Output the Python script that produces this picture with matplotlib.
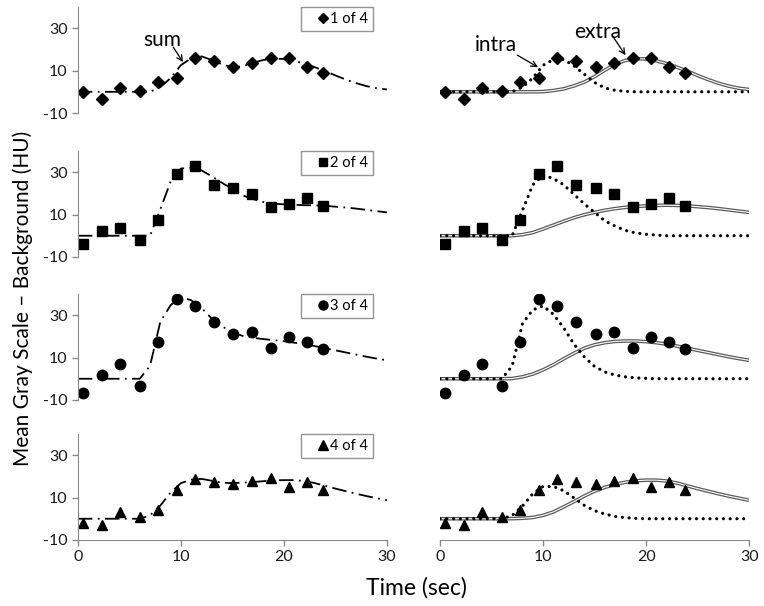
import numpy as np
import matplotlib
matplotlib.use("Agg")
import matplotlib.pyplot as plt
from matplotlib.lines import Line2D

plt.rcParams['font.family'] = ['Lato', 'DejaVu Sans']
plt.rcParams['axes.unicode_minus'] = False

# --- data ---
# sample times (sec)
t_pts = [0.5, 2.3, 4.1, 6.0, 7.8, 9.6, 11.4, 13.2, 15.1, 16.9, 18.7, 20.5, 22.2, 23.8]

# measured points, one list per scan
pts1 = [-0.3, -3.3, 1.8, 0.6, 4.8, 6.7, 16.0, 14.7, 11.7, 13.8, 15.8, 15.8, 11.7, 8.9]
pts2 = [-3.7, 2.1, 3.7, -2.2, 7.3, 29.0, 32.9, 23.9, 22.3, 19.5, 13.6, 14.9, 17.6, 13.9]
pts3 = [-6.7, 1.8, 6.8, -3.3, 17.1, 37.5, 34.5, 26.7, 21.1, 22.2, 14.3, 19.8, 17.4, 13.8]
pts4 = [-2.0, -3.0, 3.1, 0.9, 4.1, 13.7, 18.8, 17.5, 16.2, 18.0, 19.1, 15.1, 17.2, 13.7]

# fitted curves, read at 1 s steps from 0 to 30 s
t_fit = list(range(31))
intra1 = [0, 0, 0, 0, 0, 0, 0, 0, 2.2, 6.5, 12.5, 15.2, 15.3, 12.2, 8.3, 4.4,
          1.8, 0.7, 0.2, 0, 0, 0, 0, 0, 0, 0, 0, 0, 0, 0, 0]
extra1 = [0, 0, 0, 0, 0, 0, 0, 0, 0, 0, 0.1, 0.6, 1.4, 2.8, 4.6, 7.2,
          10.2, 13.0, 14.8, 15.6, 15.5, 14.6, 13.3, 11.6, 9.8, 7.7, 5.8, 4.1, 2.7, 1.7, 1.1]
intra2 = [0, 0, 0, 0, 0, 0, 0, 0, 12.0, 24.0, 28.5, 27.0, 24.0, 19.5, 15.0, 11.0,
          7.0, 4.5, 2.5, 1.3, 0.7, 0.3, 0, 0, 0, 0, 0, 0, 0, 0, 0]
extra2 = [0, 0, 0, 0, 0, 0, 0, 0, 0.5, 1.5, 3.2, 5.0, 6.8, 8.5, 9.9, 11.0,
          12.0, 12.8, 13.4, 13.8, 14.1, 14.3, 14.4, 14.3, 14.1, 13.7, 13.3, 12.8, 12.2, 11.6, 11.0]
intra3 = [0, 0, 0, 0, 0, 0, 0, 6.0, 26.0, 32.5, 34.3, 30.4, 24.0, 16.3, 10.3, 5.8,
          3.2, 1.7, 0.9, 0.4, 0.2, 0, 0, 0, 0, 0, 0, 0, 0, 0, 0]
extra3 = [0, 0, 0, 0, 0, 0, 0, 0.1, 0.9, 2.2, 4.2, 6.6, 9.4, 12.0, 14.4, 16.0,
          17.0, 17.6, 17.8, 17.8, 17.5, 17.0, 16.3, 15.4, 14.4, 13.4, 12.4, 11.4, 10.4, 9.5, 8.7]
intra4 = [0, 0, 0, 0, 0, 0, 0, 1.5, 6.0, 11.8, 15.2, 15.2, 13.2, 9.8, 6.3, 3.8,
          2.2, 1.1, 0.5, 0.2, 0, 0, 0, 0, 0, 0, 0, 0, 0, 0, 0]
extra4 = [0, 0, 0, 0, 0, 0, 0, 0.05, 0.2, 0.6, 1.6, 3.2, 5.6, 8.1, 10.7, 13.0,
          14.8, 16.2, 17.2, 17.9, 18.2, 18.2, 17.8, 16.8, 15.5, 14.2, 13.0, 11.8, 10.7, 9.7, 8.7]

labels = ['1 of 4', '2 of 4', '3 of 4', '4 of 4']
markers = ['D', 's', 'o', '^']
msizes = [6, 7, 7.5, 7.5]
points = [pts1, pts2, pts3, pts4]
intras = [intra1, intra2, intra3, intra4]
extras = [extra1, extra2, extra3, extra4]

fig = plt.figure(figsize=(7.64, 6.06), dpi=100)

bottoms = [0.8135, 0.576, 0.340, 0.109]
h = 0.175
w = 0.4045
axis_col = '#8a8a8a'
arrow = dict(arrowstyle='->', color='black', lw=0.9, shrinkA=0, shrinkB=0)

for i in range(4):
    intra = np.array(intras[i])
    extra = np.array(extras[i])
    total = intra + extra

    axl = fig.add_axes([0.102, bottoms[i], w, h])
    axr = fig.add_axes([0.576, bottoms[i], w, h])

    # left: measured points + sum fit
    axl.plot(t_fit, total, color='black', lw=1.3,
             linestyle=(0, (8, 3, 1, 3)))
    axl.plot(t_pts, points[i], linestyle='none', marker=markers[i],
             markersize=msizes[i], color='black')

    # right: measured points + intra / extra fits
    axr.plot(t_fit, extra, color='#5a5a5a', lw=2.6, solid_capstyle='butt')
    axr.plot(t_fit, extra, color='white', lw=0.8, solid_capstyle='butt')
    axr.plot(t_fit, intra, color='black', lw=2.3,
             linestyle=(0, (0.01, 2.1)), dash_capstyle='round')
    axr.plot(t_pts, points[i], linestyle='none', marker=markers[i],
             markersize=msizes[i], color='black')

    for ax in (axl, axr):
        ax.set_xlim(0, 30)
        ax.set_ylim(-10, 40)
        ax.spines['top'].set_visible(False)
        ax.spines['right'].set_visible(False)
        ax.spines['left'].set_color(axis_col)
        ax.spines['bottom'].set_color(axis_col)
        ax.tick_params(colors=axis_col, labelcolor='#1a1a1a', labelsize=11.5,
                       length=4, width=1)
        if i < 3:
            ax.spines['bottom'].set_visible(False)
            ax.set_xticks([])
        else:
            ax.set_xticks([0, 10, 20, 30])

    axl.set_yticks([-10, 10, 30])
    axr.spines['left'].set_visible(False)
    axr.set_yticks([])

    handle = Line2D([], [], linestyle='none', marker=markers[i],
                    markersize=msizes[i] - 1, color='black')
    leg = axl.legend([handle], [labels[i]], loc='upper right',
                     bbox_to_anchor=(0.955, 1.0), fontsize=10.5,
                     frameon=True, fancybox=False, handlelength=2.4,
                     handletextpad=-0.75, borderpad=0.35, borderaxespad=0)
    leg.get_frame().set_edgecolor('#7a7a7a')
    leg.get_frame().set_linewidth(1.0)

    if i == 0:
        axl.text(8.2, 24.4, 'sum', fontsize=15, ha='center', va='center')
        axl.annotate('', xy=(10.2, 14.0), xytext=(9.25, 21.1), arrowprops=arrow)
        axr.text(5.4, 22.0, 'intra', fontsize=15, ha='center', va='center')
        axr.annotate('', xy=(9.5, 11.6), xytext=(7.5, 17.3), arrowprops=arrow)
        axr.text(15.3, 28.2, 'extra', fontsize=15, ha='center', va='center')
        axr.annotate('', xy=(18.0, 17.3), xytext=(16.8, 25.9), arrowprops=arrow)

fig.text(0.03, 0.507, 'Mean Gray Scale \u2013 Background (HU)', rotation=90,
         ha='center', va='center', fontsize=15)
fig.text(0.545, 0.03, 'Time (sec)', ha='center', va='center', fontsize=16.5)

fig.savefig('out.png', dpi=100)
